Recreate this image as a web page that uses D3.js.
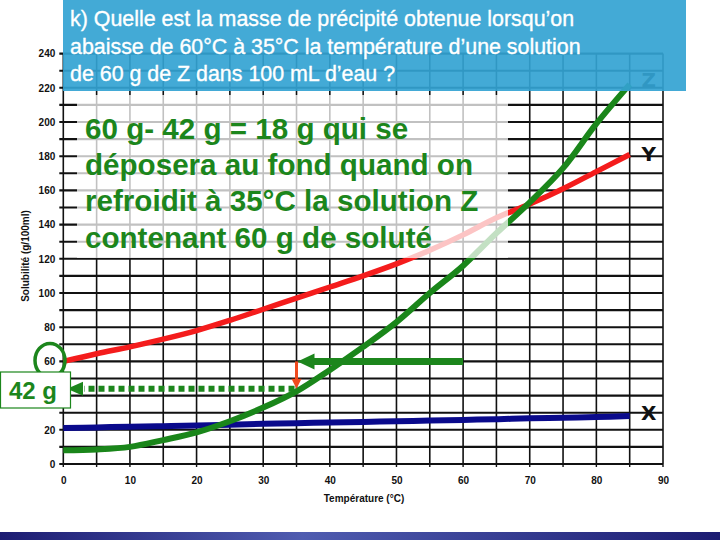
<!DOCTYPE html>
<html><head><meta charset="utf-8">
<script src="https://cdn.jsdelivr.net/npm/d3@7"></script>
<style>
html,body{margin:0;padding:0;background:#fff;}
svg{display:block;}
</style></head>
<body>
<svg id="c" width="720" height="540"></svg>
<script>
// ---- data ----
const temps   = [0,5,10,15,20,25,30,35,40,45,50,55,60,65,70,75,80,85];
const seriesX = [21,21.4,21.8,22.1,22.5,23,23.5,23.9,24.2,24.6,25,25.4,25.8,26.2,26.7,27.1,27.5,28];
const seriesY = [60,64.5,68.5,73,78,84,90.5,97,103.5,110,117,125,134,144,152,161,171,181];
const seriesZ = [8,8.5,10,14,18.5,25,33,42.5,55,68.5,83,100,116,135,153,173,199,222];
const seriesNames = ["X","Y","Z"];
const xTicks = [0,10,20,30,40,50,60,70,80,90];
const yTicks = [0,20,40,60,80,100,120,140,160,180,200,220,240];
const hiddenYTicks = [40]; // covered by the "42 g" box in the picture
const titleLines = [
  "k) Quelle est la masse de précipité obtenue lorsqu’on",
  "abaisse de 60°C à 35°C la température d’une solution",
  "de 60 g de Z dans 100 mL d’eau ?"
];
const answerLines = [
  "60 g- 42 g = 18 g qui se",
  "déposera au fond quand on",
  "refroidit à 35°C la solution Z",
  "contenant 60 g de soluté"
];
const startTemp = 60, endTemp = 35, startMass = 60, residualLevel = 44, residualLabel = "42 g";

// ---- scales ----
const svg = d3.select("#c");
const x = d3.scaleLinear().domain([0,90]).range([63.3,663]);
const y = d3.scaleLinear().domain([0,240]).range([464,53.6]);

// bottom bar
const defs = svg.append("defs");
const g1 = defs.append("linearGradient").attr("id","bar").attr("x1","0").attr("x2","1");
g1.append("stop").attr("offset","0").attr("stop-color","#1c1c72");
g1.append("stop").attr("offset","0.42").attr("stop-color","#4f5cb0");
g1.append("stop").attr("offset","1").attr("stop-color","#1c1c72");
svg.append("rect").attr("x",0).attr("y",532).attr("width",720).attr("height",8).attr("fill","url(#bar)");

// grid
const grid = svg.append("g");
grid.selectAll("line.v").data(d3.range(0,91,5)).join("line")
  .attr("x1",d=>x(d)).attr("x2",d=>x(d)).attr("y1",y(0)).attr("y2",y(240))
  .attr("stroke","#111").attr("stroke-width",1.6);
grid.selectAll("line.h").data(d3.range(0,241,10)).join("line")
  .attr("x1",x(0)-4).attr("x2",x(90)).attr("y1",d=>y(d)).attr("y2",d=>y(d))
  .attr("stroke","#111").attr("stroke-width",2.1);
grid.selectAll("line.xt").data(d3.range(0,91,5)).join("line")
  .attr("x1",d=>x(d)).attr("x2",d=>x(d)).attr("y1",y(0)).attr("y2",y(0)+3)
  .attr("stroke","#111").attr("stroke-width",1.4);

// axes labels
const tickFont = "'Liberation Sans Narrow','Liberation Sans',Arial,sans-serif";
const ax = svg.append("g").attr("transform",`translate(0,${y(0)})`)
  .call(d3.axisBottom(x).tickValues(xTicks).tickSize(0).tickPadding(13).tickFormat(d3.format("d")));
ax.select(".domain").remove();
ax.selectAll("text").attr("font-family",tickFont).attr("font-weight","bold").attr("font-size",10).attr("fill","#111");
const ay = svg.append("g").attr("transform",`translate(${x(0)},0)`)
  .call(d3.axisLeft(y).tickValues(yTicks.filter(v=>!hiddenYTicks.includes(v))).tickSize(0).tickPadding(8).tickFormat(d3.format("d")));
ay.select(".domain").remove();
ay.selectAll("text").attr("font-family",tickFont).attr("font-weight","bold").attr("font-size",10).attr("fill","#111");

svg.append("text").attr("x",364).attr("y",502).attr("text-anchor","middle")
  .attr("font-family",tickFont).attr("font-weight","bold").attr("font-size",10).attr("fill","#111")
  .text("Température (°C)");
svg.append("text").attr("transform","translate(29,256) rotate(-90)").attr("text-anchor","middle")
  .attr("font-family",tickFont).attr("font-weight","bold").attr("font-size",10).attr("fill","#111")
  .text("Solubilité (g/100ml)");

// curves
const line = d3.line().x((d,i)=>x(temps[i])).y(d=>y(d)).curve(d3.curveCatmullRom);
svg.append("path").attr("d",line(seriesX)).attr("fill","none").attr("stroke","#0a0a8c").attr("stroke-width",6);
svg.append("path").attr("d",line(seriesY)).attr("fill","none").attr("stroke","#f41c1c").attr("stroke-width",5.5);
svg.append("path").attr("d",line(seriesZ)).attr("fill","none").attr("stroke","#1a861a").attr("stroke-width",6);

// curve labels
const lblFont = "'DejaVu Sans',sans-serif";
const endT = temps[temps.length-1];
[[seriesX,"X",420],[seriesY,"Y",161],[seriesZ,"Z",87]].forEach(([s,n,yy])=>{
  svg.append("text").attr("x",x(endT)+19).attr("y",yy).attr("text-anchor","middle")
    .attr("font-family",lblFont).attr("font-weight","bold").attr("font-size",20).attr("fill","#111").text(n);
});

// white veil behind answer text
svg.append("rect").attr("x",77).attr("y",95).attr("width",431).attr("height",163)
  .attr("fill","#fff").attr("opacity",0.74);

// title box
svg.append("rect").attr("x",63).attr("y",0).attr("width",623).attr("height",91)
  .attr("fill","#33a3d2").attr("opacity",0.92);
const titleFont = "'Liberation Sans',Arial,sans-serif";
titleLines.forEach((t,i)=>{
  svg.append("text").attr("x",70).attr("y",26+i*27.5)
    .attr("font-family",titleFont).attr("font-size",21.4).attr("fill","#fff")
    .attr("stroke","#fff").attr("stroke-width",0.35).text(t);
});

// answer text
const green = "#1c861c";
answerLines.forEach((t,i)=>{
  svg.append("text").attr("x",85).attr("y",139+i*36.2)
    .attr("font-family",titleFont).attr("font-weight","bold").attr("font-size",29.6).attr("fill",green).text(t);
});

// annotation arrows
const ya = y(startMass);
svg.append("line").attr("x1",x(startTemp)).attr("x2",x(endTemp)+14).attr("y1",ya).attr("y2",ya)
  .attr("stroke",green).attr("stroke-width",7);
svg.append("path").attr("d",`M${x(endTemp)+1},${ya} L${x(endTemp)+18},${ya-8} L${x(endTemp)+18},${ya+8} Z`).attr("fill",green);
const yr = y(residualLevel);
svg.append("line").attr("x1",x(endTemp)).attr("x2",x(endTemp)).attr("y1",ya).attr("y2",yr-9)
  .attr("stroke","#f04a1e").attr("stroke-width",3);
svg.append("path").attr("d",`M${x(endTemp)},${yr} L${x(endTemp)-5},${yr-10} L${x(endTemp)+5},${yr-10} Z`).attr("fill","#f04a1e");
svg.append("line").attr("x1",x(endTemp)-2).attr("x2",84).attr("y1",yr).attr("y2",yr)
  .attr("stroke",green).attr("stroke-width",6).attr("stroke-dasharray","6,4");
svg.append("path").attr("d",`M67,${yr} L83,${yr-7} L83,${yr+7} Z`).attr("fill",green);

// circle around 60 tick label
svg.append("ellipse").attr("cx",50).attr("cy",y(startMass)-1).attr("rx",15).attr("ry",17)
  .attr("fill","none").attr("stroke",green).attr("stroke-width",3.5);

// 42 g box
svg.append("rect").attr("x",0.5).attr("y",372).attr("width",70).attr("height",36)
  .attr("fill","#fff").attr("stroke",green).attr("stroke-width",1.2);
svg.append("text").attr("x",33).attr("y",399).attr("text-anchor","middle")
  .attr("font-family",titleFont).attr("font-weight","bold").attr("font-size",24).attr("fill",green).text(residualLabel);
</script>
</body></html>
